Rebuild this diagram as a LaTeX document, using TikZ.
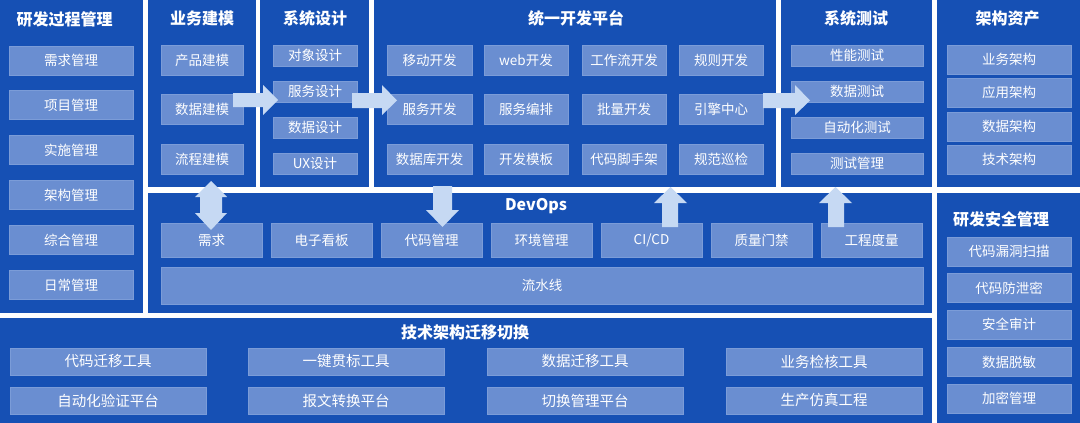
\documentclass[tikz,border=0pt]{standalone}
\usepackage{fontspec}
\setmainfont{Noto Sans CJK SC}
\definecolor{panelc}{HTML}{1650B4}
\definecolor{itemc}{HTML}{6A8ED1}
\definecolor{itemb}{HTML}{7B9CD8}
\definecolor{arrowc}{HTML}{C6D9F3}
\tikzset{
  panel/.style={fill=panelc},
  item/.style={rectangle, fill=itemc, draw=itemb, line width=0.8pt, text=white, inner sep=0pt,
     font=\fontsize{13.5}{14}\selectfont},
  bigitem/.style={item, font=\fontsize{14.5}{15}\selectfont},
  ttl/.style={text=white, inner sep=0pt, font=\fontsize{16}{17}\selectfont\bfseries},
  blockarrow/.style={fill=arrowc}
}
\newcommand{\itm}[6][item]{\node[#1, minimum width=#4, minimum height=#5] (#2) at (#3) {#6};}
\begin{document}
\begin{tikzpicture}[x=1pt,y=-1pt]
\useasboundingbox (0,0) rectangle (1080,423);
\fill[white] (0,0) rectangle (1080,423);
% panels
\fill[panel] (0,0) rectangle (143,313);
\fill[panel] (148,0) rectangle (256,187);
\fill[panel] (260,0) rectangle (369,187);
\fill[panel] (374,0) rectangle (776,187);
\fill[panel] (781,0) rectangle (932,187);
\fill[panel] (937,0) rectangle (1080,187);
\fill[panel] (148,193) rectangle (932,313);
\fill[panel] (937,193) rectangle (1080,423);
\fill[panel] (0,318) rectangle (932,423);
% titles
\node[ttl] (t1) at (64.5,19) {研发过程管理};
\node[ttl] (t2) at (202,18) {业务建模};
\node[ttl] (t3) at (315,18) {系统设计};
\node[ttl] (t4) at (576,18) {统一开发平台};
\node[ttl] (t5) at (856,18) {系统测试};
\node[ttl] (t6) at (1007.5,18) {架构资产};
\node[ttl] (t7) at (536,206) {DevOps};
\node[ttl] (t8) at (1001,219) {研发安全管理};
\node[ttl] (t9) at (465,332) {技术架构迁移切换};
% panel 1
\itm{p1a}{71,60.5}{124}{29}{需求管理}
\itm{p1b}{71,105}{124}{29}{项目管理}
\itm{p1c}{71,150}{124}{29}{实施管理}
\itm{p1d}{71,195}{124}{29}{架构管理}
\itm{p1e}{71,240}{124}{29}{综合管理}
\itm{p1f}{71,285}{124}{29}{日常管理}
% panel 2
\itm{p2a}{202,60}{82}{30}{产品建模}
\itm{p2b}{202,109}{82}{30}{数据建模}
\itm{p2c}{202,159}{82}{30}{流程建模}
% panel 3
\itm{p3a}{315,55.5}{84}{21}{对象设计}
\itm{p3b}{315,91.5}{84}{21}{服务设计}
\itm{p3c}{315,127.5}{84}{21}{数据设计}
\itm{p3d}{315,163.5}{84}{21}{UX设计}
% panel 4
\itm{p4a}{429.5,60}{85}{30}{移动开发}
\itm{p4b}{526,60}{84}{30}{web开发}
\itm{p4c}{624,60}{84}{30}{工作流开发}
\itm{p4d}{721,60}{84}{30}{规则开发}
\itm{p4e}{429.5,109}{85}{30}{服务开发}
\itm{p4f}{526,109}{84}{30}{服务编排}
\itm{p4g}{624,109}{84}{30}{批量开发}
\itm{p4h}{721,109}{84}{30}{引擎中心}
\itm{p4i}{429.5,159}{85}{30}{数据库开发}
\itm{p4j}{526,159}{84}{30}{开发模板}
\itm{p4k}{624,159}{84}{30}{代码脚手架}
\itm{p4l}{721,159}{84}{30}{规范巡检}
% panel 5
\itm{p5a}{857,55.5}{132}{21}{性能测试}
\itm{p5b}{857,91.5}{132}{21}{数据测试}
\itm{p5c}{857,127.5}{132}{21}{自动化测试}
\itm{p5d}{857,163.5}{132}{21}{测试管理}
% panel 6
\itm{p6a}{1009,59.5}{124}{29}{业务架构}
\itm{p6b}{1009,92.5}{124}{29}{应用架构}
\itm{p6c}{1009,126.5}{124}{29}{数据架构}
\itm{p6d}{1009,159.5}{124}{29}{技术架构}
% devops
\itm{d1}{211.5,240}{101}{34}{需求}
\itm{d2}{321.5,240}{101}{34}{电子看板}
\itm{d3}{431.5,240}{101}{34}{代码管理}
\itm{d4}{541.5,240}{101}{34}{环境管理}
\itm{d5}{651.5,240}{101}{34}{CI/CD}
\itm{d6}{761.5,240}{101}{34}{质量门禁}
\itm{d7}{871.5,240}{101}{34}{工程度量}
\itm{d8}{542,285.5}{762}{37}{流水线}
% security
\itm{s1}{1009,251.5}{124}{29}{代码漏洞扫描}
\itm{s2}{1009,288}{124}{29}{代码防泄密}
\itm{s3}{1009,324.5}{124}{29}{安全审计}
\itm{s4}{1009,362}{124}{29}{数据脱敏}
\itm{s5}{1009,398.5}{124}{29}{加密管理}
% migration
\itm[bigitem]{m1}{108,361.5}{196}{27}{代码迁移工具}
\itm[bigitem]{m2}{346,361.5}{196}{27}{一键贯标工具}
\itm[bigitem]{m3}{585,361.5}{196}{27}{数据迁移工具}
\itm[bigitem]{m4}{824,361.5}{196}{27}{业务检核工具}
\itm[bigitem]{m5}{108,400.5}{196}{27}{自动化验证平台}
\itm[bigitem]{m6}{346,400.5}{196}{27}{报文转换平台}
\itm[bigitem]{m7}{585,400.5}{196}{27}{切换管理平台}
\itm[bigitem]{m8}{824,400.5}{196}{27}{生产仿真工程}
% block arrows
\fill[blockarrow] (233,93)--(263,93)--(263,85)--(278,100)--(263,115)--(263,107)--(233,107)--cycle;
\fill[blockarrow] (352,93)--(382,93)--(382,85)--(397,100.5)--(382,115)--(382,108)--(352,108)--cycle;
\fill[blockarrow] (763,93)--(795,93)--(795,85)--(810,100.5)--(795,115)--(795,108)--(763,108)--cycle;
\fill[blockarrow] (211,181)--(227,197)--(222,197)--(222,213)--(227,213)--(211,230)--(195,213)--(200,213)--(200,197)--(195,197)--cycle;
\fill[blockarrow] (433,186)--(452,186)--(452,210)--(459,210)--(442.5,227)--(426,210)--(433,210)--cycle;
\fill[blockarrow] (670.5,187)--(687,203)--(678,203)--(678,227)--(662,227)--(662,203)--(654,203)--cycle;
\fill[blockarrow] (835.5,187)--(852,203)--(844,203)--(844,227)--(828,227)--(828,203)--(819,203)--cycle;
\end{tikzpicture}
\end{document}
